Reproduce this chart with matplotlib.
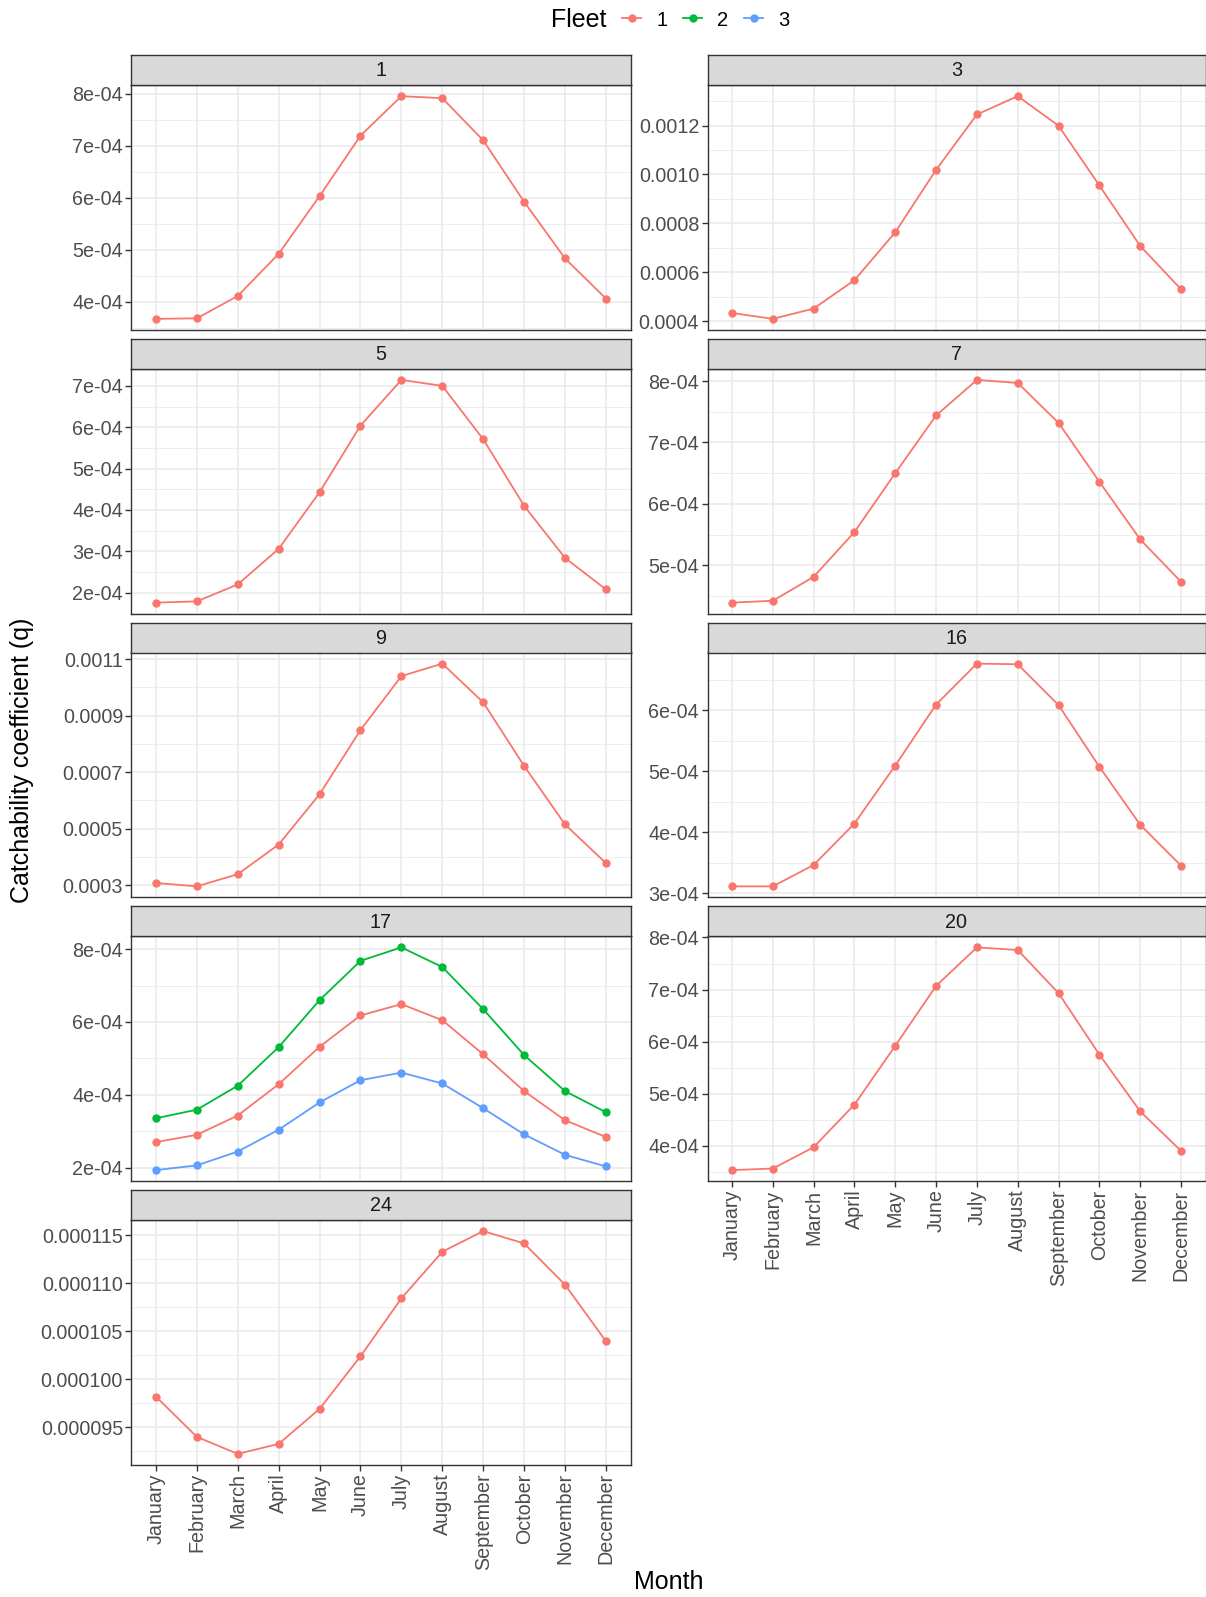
import matplotlib
matplotlib.use("Agg")
import matplotlib.pyplot as plt
from matplotlib.lines import Line2D
import numpy as np

plt.rcParams['font.family'] = ['Liberation Sans', 'DejaVu Sans']

# ---------------- data ----------------
months = ['January', 'February', 'March', 'April', 'May', 'June', 'July',
          'August', 'September', 'October', 'November', 'December']
fleets = ['1', '2', '3']
fleet_colors = ['#F8766D', '#00BA38', '#619CFF']
panel_ids = ['1', '3', '5', '7', '9', '16', '17', '20', '24']

q_area1 = [3.67e-4, 3.68e-4, 4.11e-4, 4.92e-4, 6.03e-4, 7.19e-4, 7.95e-4, 7.91e-4, 7.10e-4, 5.92e-4, 4.83e-4, 4.06e-4]
q_area3 = [4.34e-4, 4.10e-4, 4.52e-4, 5.68e-4, 7.64e-4, 10.19e-4, 12.45e-4, 13.20e-4, 11.99e-4, 9.55e-4, 7.08e-4, 5.31e-4]
q_area5 = [1.76e-4, 1.79e-4, 2.20e-4, 3.06e-4, 4.43e-4, 6.04e-4, 7.145e-4, 7.00e-4, 5.71e-4, 4.10e-4, 2.84e-4, 2.08e-4]
q_area7 = [4.39e-4, 4.42e-4, 4.81e-4, 5.54e-4, 6.50e-4, 7.44e-4, 8.02e-4, 7.97e-4, 7.32e-4, 6.36e-4, 5.42e-4, 4.73e-4]
q_area9 = [3.08e-4, 2.96e-4, 3.39e-4, 4.44e-4, 6.22e-4, 8.49e-4, 10.40e-4, 10.84e-4, 9.47e-4, 7.22e-4, 5.15e-4, 3.78e-4]
q_area16 = [3.11e-4, 3.11e-4, 3.46e-4, 4.14e-4, 5.09e-4, 6.09e-4, 6.76e-4, 6.75e-4, 6.08e-4, 5.07e-4, 4.12e-4, 3.45e-4]
q_area17_f1 = [2.70e-4, 2.90e-4, 3.43e-4, 4.29e-4, 5.32e-4, 6.18e-4, 6.49e-4, 6.05e-4, 5.11e-4, 4.10e-4, 3.30e-4, 2.84e-4]
q_area17_f2 = [3.355e-4, 3.59e-4, 4.25e-4, 5.31e-4, 6.60e-4, 7.68e-4, 8.05e-4, 7.51e-4, 6.35e-4, 5.09e-4, 4.10e-4, 3.52e-4]
q_area17_f3 = [1.93e-4, 2.06e-4, 2.44e-4, 3.04e-4, 3.79e-4, 4.40e-4, 4.61e-4, 4.31e-4, 3.63e-4, 2.91e-4, 2.35e-4, 2.03e-4]
q_area20 = [3.53e-4, 3.56e-4, 3.97e-4, 4.79e-4, 5.92e-4, 7.07e-4, 7.81e-4, 7.76e-4, 6.93e-4, 5.75e-4, 4.66e-4, 3.90e-4]
q_area24 = [98.19e-6, 93.99e-6, 92.22e-6, 93.26e-6, 96.91e-6, 102.40e-6, 108.44e-6, 113.30e-6, 115.45e-6, 114.17e-6, 109.86e-6, 103.96e-6]

# y tick values and labels per panel
yticks_1 = [4e-4, 5e-4, 6e-4, 7e-4, 8e-4]
ylabels_1 = ['4e-04', '5e-04', '6e-04', '7e-04', '8e-04']
yticks_3 = [4e-4, 6e-4, 8e-4, 10e-4, 12e-4]
ylabels_3 = ['0.0004', '0.0006', '0.0008', '0.0010', '0.0012']
yticks_5 = [2e-4, 3e-4, 4e-4, 5e-4, 6e-4, 7e-4]
ylabels_5 = ['2e-04', '3e-04', '4e-04', '5e-04', '6e-04', '7e-04']
yticks_7 = [5e-4, 6e-4, 7e-4, 8e-4]
ylabels_7 = ['5e-04', '6e-04', '7e-04', '8e-04']
yticks_9 = [3e-4, 5e-4, 7e-4, 9e-4, 11e-4]
ylabels_9 = ['0.0003', '0.0005', '0.0007', '0.0009', '0.0011']
yticks_16 = [3e-4, 4e-4, 5e-4, 6e-4]
ylabels_16 = ['3e-04', '4e-04', '5e-04', '6e-04']
yticks_17 = [2e-4, 4e-4, 6e-4, 8e-4]
ylabels_17 = ['2e-04', '4e-04', '6e-04', '8e-04']
yticks_20 = [4e-4, 5e-4, 6e-4, 7e-4, 8e-4]
ylabels_20 = ['4e-04', '5e-04', '6e-04', '7e-04', '8e-04']
yticks_24 = [95e-6, 100e-6, 105e-6, 110e-6, 115e-6]
ylabels_24 = ['0.000095', '0.000100', '0.000105', '0.000110', '0.000115']

panel_series = {
    '1': [('1', q_area1)],
    '3': [('1', q_area3)],
    '5': [('1', q_area5)],
    '7': [('1', q_area7)],
    '9': [('1', q_area9)],
    '16': [('1', q_area16)],
    '17': [('1', q_area17_f1), ('2', q_area17_f2), ('3', q_area17_f3)],
    '20': [('1', q_area20)],
    '24': [('1', q_area24)],
}
panel_ticks = {
    '1': (yticks_1, ylabels_1), '3': (yticks_3, ylabels_3),
    '5': (yticks_5, ylabels_5), '7': (yticks_7, ylabels_7),
    '9': (yticks_9, ylabels_9), '16': (yticks_16, ylabels_16),
    '17': (yticks_17, ylabels_17), '20': (yticks_20, ylabels_20),
    '24': (yticks_24, ylabels_24),
}

# ---------------- layout ----------------
W, H = 1206, 1597
fig = plt.figure(figsize=(W / 100, H / 100), dpi=100)

col_x = [(131.4, 630.5), (707.5, 1205.5)]
row_top0 = 85.0
row_pitch = 283.75
panel_h = 245.0
strip_h = 30.0

GRID = '#EBEBEB'
BORDER = '#333333'
TXT_TICK = '#4D4D4D'
TICK_FS = 14.2

def fx(px):
    return px / W

def fy(py):
    return 1 - py / H

x = np.arange(1, len(months) + 1)
color_of = dict(zip(fleets, fleet_colors))

for i, pid in enumerate(panel_ids):
    r, c = divmod(i, 2)
    x0, x1 = col_x[c]
    top = row_top0 + r * row_pitch
    bot = top + panel_h
    ax = fig.add_axes([fx(x0), fy(bot), fx(x1) - fx(x0), (bot - top) / H])
    sax = fig.add_axes([fx(x0), fy(top), fx(x1) - fx(x0), strip_h / H])

    # strip
    sax.set_facecolor('#D9D9D9')
    sax.set_xticks([]); sax.set_yticks([])
    for sp in sax.spines.values():
        sp.set_color(BORDER); sp.set_linewidth(1.0)
    sax.text(0.5, 0.47, pid, ha='center', va='center', fontsize=TICK_FS,
             color='#1A1A1A', transform=sax.transAxes)

    # data
    allv = []
    for fl, vals in panel_series[pid]:
        ax.plot(x, vals, '-o', color=color_of[fl], lw=1.3, ms=5.0,
                zorder=3, clip_on=False)
        allv += vals
    lo, hi = min(allv), max(allv)
    pad = (hi - lo) * 0.05
    ylo, yhi = lo - pad, hi + pad

    ticks, labels = panel_ticks[pid]
    ax.set_yticks(ticks)
    ax.set_yticklabels(labels)
    step = ticks[1] - ticks[0]
    minors = [ticks[0] - step / 2] + [t + step / 2 for t in ticks]
    minors = [m for m in minors if ylo <= m <= yhi]
    ax.set_yticks(minors, minor=True)
    ax.set_xticks(x)
    ax.set_ylim(ylo, yhi)
    ax.set_xlim(0.4, 12.6)
    ax.grid(True, which='major', color=GRID, lw=1.2, zorder=0)
    ax.grid(True, which='minor', axis='y', color=GRID, lw=0.6, zorder=0)
    ax.tick_params(axis='y', which='minor', length=0)
    ax.tick_params(axis='both', which='major', length=4, width=1.0,
                   color=BORDER, labelsize=TICK_FS, labelcolor=TXT_TICK, pad=2)
    ax.set_axisbelow(True)
    for sp in ax.spines.values():
        sp.set_color(BORDER); sp.set_linewidth(1.0)

    if pid in ('24', '20'):
        ax.set_xticklabels(months, rotation=90, va='top', ha='center')
    else:
        ax.set_xticklabels([])
        ax.tick_params(axis='x', length=0)

# axis titles
fig.text(fx(22.5), fy(760), 'Catchability coefficient (q)', rotation=90,
         ha='center', va='center', fontsize=18, color='black')
fig.text(fx(668.5), fy(1582), 'Month', ha='center', va='center',
         fontsize=18, color='black')

# legend
fig.text(fx(551), fy(20), 'Fleet', ha='left', va='center', fontsize=18)
handles = [Line2D([0], [0], color=color_of[f], lw=1.3, marker='o', ms=5.0)
           for f in fleets]
fig.legend(handles, fleets, loc='center left', bbox_to_anchor=(fx(622), fy(20)),
           ncol=3, frameon=False, fontsize=14.5, handlelength=0.95,
           handletextpad=0.75, columnspacing=0.78, borderpad=0, borderaxespad=0)

fig.savefig('out.png', dpi=100)
